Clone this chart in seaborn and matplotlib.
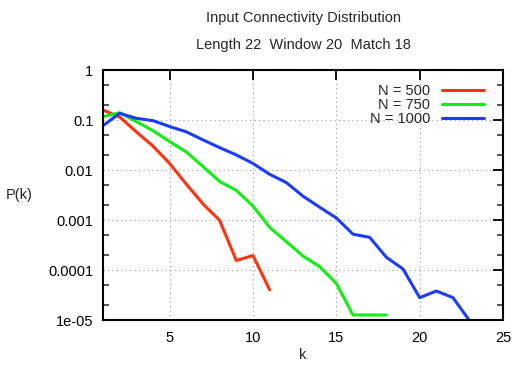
import numpy as np
import pandas as pd
import matplotlib
matplotlib.use("Agg")
import matplotlib.pyplot as plt
import seaborn as sns
from matplotlib.ticker import LogLocator, FixedLocator, NullFormatter

k500 = [1, 2, 3, 4, 5, 6, 7, 8, 9, 10, 11]
p500 = [0.158, 0.115, 0.058, 0.030, 0.0135, 0.0052, 0.0021, 0.00098, 0.000155, 0.000195, 0.00004]

k750 = [1, 2, 3, 4, 5, 6, 7, 8, 9, 10, 11, 12, 13, 14, 15, 16, 17, 18]
p750 = [0.117, 0.14, 0.093, 0.061, 0.037, 0.023, 0.0117, 0.0059, 0.0039, 0.0019,
        0.00071, 0.00037, 0.00019, 0.000117, 0.000054, 0.0000126, 0.0000126, 0.0000126]

k1000 = list(range(1, 24))
p1000 = [0.077, 0.136, 0.108, 0.097, 0.074, 0.058, 0.040, 0.028, 0.020, 0.0135,
         0.0082, 0.0056, 0.0030, 0.0018, 0.0011, 0.00052, 0.00045, 0.00018, 0.000105,
         0.000028, 0.000038, 0.000028, 0.0000096]

labels = ["N = 500", "N = 750", "N = 1000"]
colors = ["#ff3311", "#11ee11", "#1a3cff"]

df = pd.concat([
    pd.DataFrame({"k": k500, "P": p500, "series": labels[0]}),
    pd.DataFrame({"k": k750, "P": p750, "series": labels[1]}),
    pd.DataFrame({"k": k1000, "P": p1000, "series": labels[2]}),
])

sns.set_style("white")
plt.rcParams['font.family'] = ['Liberation Sans', 'DejaVu Sans']

fig = plt.figure(figsize=(5.14, 3.65), dpi=100)
ax = fig.add_axes([103/514, 1-320/365, 400/514, 250/365])

sns.lineplot(data=df, x="k", y="P", hue="series", palette=colors, hue_order=labels,
             linewidth=2.2, ax=ax, estimator=None, sort=False)
ax.set_yscale("log")
ax.set_xlim(1, 25)
ax.set_ylim(1e-5, 1)

ax.xaxis.set_major_locator(FixedLocator([5, 10, 15, 20, 25]))
ax.yaxis.set_major_locator(FixedLocator([1e-5, 1e-4, 1e-3, 1e-2, 1e-1, 1]))
ax.set_yticklabels(["1e-05", "0.0001", "0.001", "0.01", "0.1", "1"])
ax.yaxis.set_minor_locator(LogLocator(base=10, subs=(2, 5)))
ax.yaxis.set_minor_formatter(NullFormatter())

ax.grid(True, which="major", color="#999999", linestyle=(0, (1, 3)), linewidth=0.8)
ax.tick_params(axis="both", which="major", direction="in", length=7, width=1.3,
               top=True, right=True, labelsize=10.5, colors="black")
ax.tick_params(axis="x", which="major", pad=8)
ax.tick_params(axis="y", which="major", pad=7)
ax.tick_params(axis="y", which="minor", direction="in", length=4, width=1.1,
               left=True, right=True)
for s in ax.spines.values():
    s.set_linewidth(1.5)
    s.set_color("black")

ax.set_xlabel("k", fontsize=10.5, labelpad=2)
ax.set_ylabel("P(k)", fontsize=10.5, rotation=0, ha="center", va="center")
ax.yaxis.set_label_coords(-84/400, 0.5)

leg = ax.legend(loc="upper right", frameon=False, markerfirst=False, fontsize=10.5,
                handlelength=2.9, labelspacing=0.0, borderaxespad=0.6,
                bbox_to_anchor=(0.99, 1.003))
for t in leg.get_texts():
    t.set_ha("right")

fig.text(303/514, 1-18/365, "Input Connectivity Distribution", ha="center", va="center", fontsize=10.5)
fig.text(303/514, 1-45/365, "Length 22  Window 20  Match 18", ha="center", va="center", fontsize=10.5)

fig.savefig("out.png", dpi=100)
